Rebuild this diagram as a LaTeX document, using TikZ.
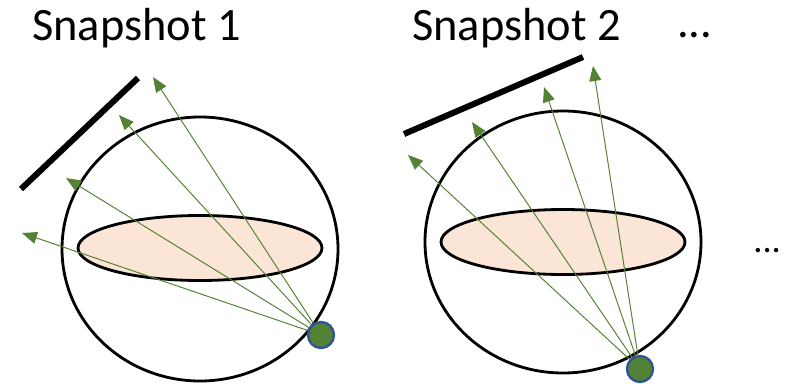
\documentclass[tikz,border=0pt]{standalone}
\usepackage{fontspec}
\setmainfont{Carlito}
\usetikzlibrary{arrows.meta, positioning}
\definecolor{raygreen}{HTML}{548235}
\definecolor{dotgreen}{HTML}{538135}
\definecolor{dotblue}{HTML}{2F5597}
\definecolor{diskpink}{HTML}{FBE5D6}

\begin{document}
\begin{tikzpicture}[x=0.025cm, y=-0.025cm,
  ray/.style={draw=raygreen, line width=0.7pt, -{Triangle[length=0.375cm, width=0.3cm]}},
  detector/.style={line width=4.3pt},
  outline/.style={line width=2pt},
  source/.style={circle, draw=dotblue, line width=1.7pt, fill=dotgreen, minimum size=0.65cm, inner sep=0pt},
  title/.style={font=\fontsize{33}{40}\selectfont, inner sep=0pt, anchor=base west}]
  \useasboundingbox (0,0) rectangle (795,388);

  % snapshot 1
  \node[title] (title1) at (32,40) {Snapshot 1};
  \draw[outline] (200,249) ellipse [x radius=138, y radius=132];
  \draw[outline, fill=diskpink] (200,248) ellipse [x radius=122, y radius=32.5];
  \draw[detector] (21,189) -- (138,78);
  \node[source] (src1) at (321,335) {};
  \coordinate (tip1a) at (22,233);
  \coordinate (tip1b) at (66,178);
  \coordinate (tip1c) at (119,115);
  \coordinate (tip1d) at (153,77);
  \foreach \t in {a,b,c,d}
    \draw[ray] (src1) -- (tip1\t);

  % snapshot 2
  \node[title] (title2) at (412,40) {Snapshot 2};
  \draw[outline] (563,242) ellipse [x radius=138, y radius=131];
  \draw[outline, fill=diskpink] (563,242) ellipse [x radius=122, y radius=32.5];
  \draw[detector] (404,134) -- (583,57);
  \node[source] (src2) at (640,369) {};
  \coordinate (tip2a) at (408,155);
  \coordinate (tip2b) at (472,122);
  \coordinate (tip2c) at (544,87);
  \coordinate (tip2d) at (593,66);
  \foreach \t in {a,b,c,d}
    \draw[ray] (src2) -- (tip2\t);

  % more snapshots
  \node[title] (more1) at (677,37) {...};
  \node[title, font=\fontsize{26}{30}\selectfont] (more2) at (753,252) {...};
\end{tikzpicture}
\end{document}
